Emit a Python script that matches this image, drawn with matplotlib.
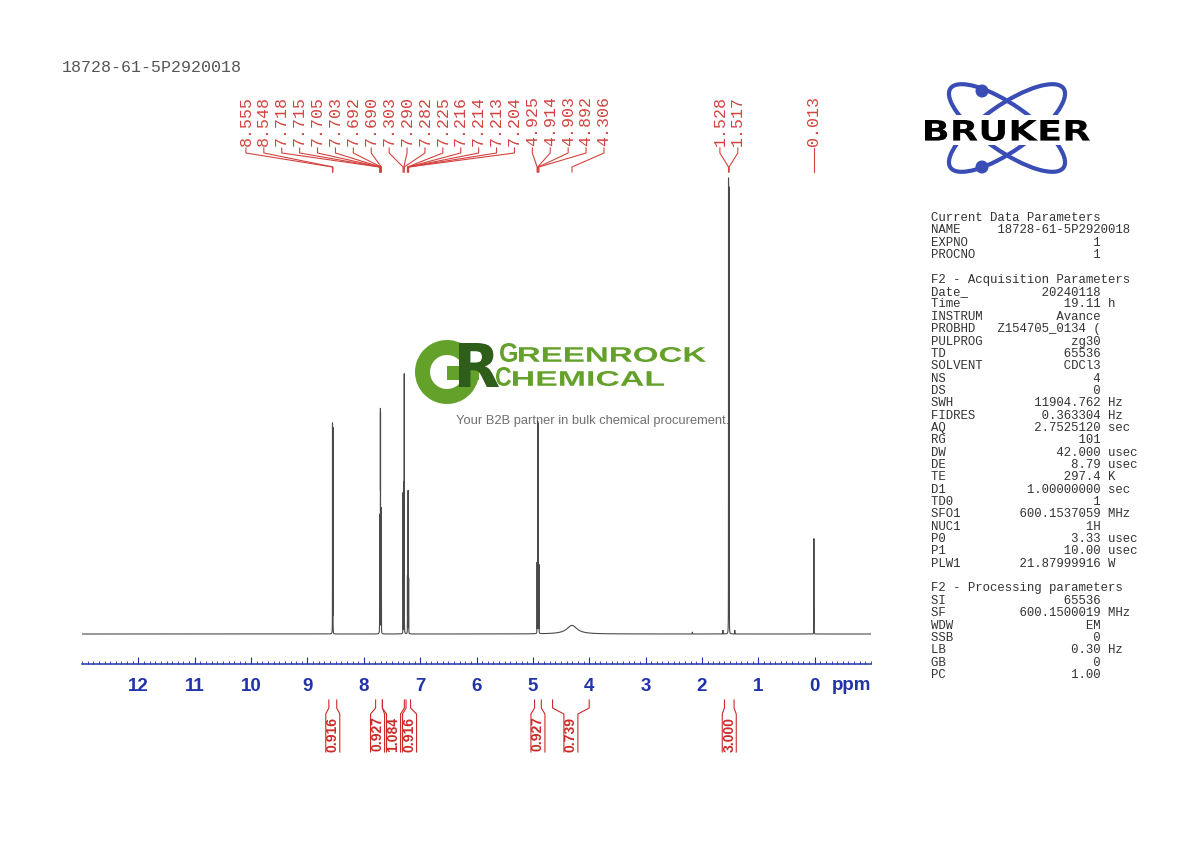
import numpy as np
import matplotlib
matplotlib.use('Agg')
import matplotlib.pyplot as plt
from matplotlib.ticker import FixedLocator, MultipleLocator
from matplotlib.patches import Ellipse, Circle, Rectangle, PathPatch, Wedge
from matplotlib.textpath import TextPath
from matplotlib.font_manager import FontProperties
from matplotlib.transforms import Affine2D

# ---- data ----
# lines (ppm, relative height, fwhm in ppm)
peak_ppm = [8.555, 8.548, 7.718, 7.715, 7.705, 7.703, 7.692, 7.690,
            7.303, 7.290, 7.282, 7.225, 7.216, 7.214, 7.213, 7.204,
            4.925, 4.914, 4.903, 4.892, 4.306, 1.628, 1.528, 1.517, 1.417,
            2.170, 0.013]
peak_height = [46, 45, 24.5, 24.5, 44, 43, 24.5, 24,
               31, 33, 57, 12.5, 26, 20.5, 20.5, 12,
               15.5, 46.5, 46, 15, 1.9, 0.8, 100, 98, 0.8,
               0.4, 21]
peak_fwhm = [0.0015] * 20 + [0.22, 0.002, 0.0015, 0.0015, 0.002, 0.004, 0.0015]

# picked peak labels
label_ppm = [8.555, 8.548, 7.718, 7.715, 7.705, 7.703, 7.692, 7.690,
             7.303, 7.290, 7.282, 7.225, 7.216, 7.214, 7.213, 7.204,
             4.925, 4.914, 4.903, 4.892, 4.306, 1.528, 1.517, 0.013]

# integrals (from, to, value)
integ_from = [8.62, 7.79, 7.67, 7.25, 4.97, 4.65, 1.60]
integ_to = [8.48, 7.67, 7.28, 7.17, 4.85, 4.00, 1.43]
integ_val = ["0.916", "0.927", "1.084", "0.916", "0.927", "0.739", "3.000"]

ppm_ticks = list(range(12, -1, -1))

params = [
    ("Current Data Parameters", None, None),
    ("NAME", "18728-61-5P2920018", ""),
    ("EXPNO", "1", ""),
    ("PROCNO", "1", ""),
    None,
    ("F2 - Acquisition Parameters", None, None),
    ("Date_", "20240118", ""),
    ("Time", "19.11", "h"),
    ("INSTRUM", "Avance", ""),
    ("PROBHD", "Z154705_0134 (", ""),
    ("PULPROG", "zg30", ""),
    ("TD", "65536", ""),
    ("SOLVENT", "CDCl3", ""),
    ("NS", "4", ""),
    ("DS", "0", ""),
    ("SWH", "11904.762", "Hz"),
    ("FIDRES", "0.363304", "Hz"),
    ("AQ", "2.7525120", "sec"),
    ("RG", "101", ""),
    ("DW", "42.000", "usec"),
    ("DE", "8.79", "usec"),
    ("TE", "297.4", "K"),
    ("D1", "1.00000000", "sec"),
    ("TD0", "1", ""),
    ("SFO1", "600.1537059", "MHz"),
    ("NUC1", "1H", ""),
    ("P0", "3.33", "usec"),
    ("P1", "10.00", "usec"),
    ("PLW1", "21.87999916", "W"),
    None,
    ("F2 - Processing parameters", None, None),
    ("SI", "65536", ""),
    ("SF", "600.1500019", "MHz"),
    ("WDW", "EM", ""),
    ("SSB", "0", ""),
    ("LB", "0.30", "Hz"),
    ("GB", "0", ""),
    ("PC", "1.00", ""),
]

RED = '#d2433f'
IRED = '#cc2a2a'
BLUE = '#2233aa'
MONO = ['Liberation Mono', 'DejaVu Sans Mono']
NARROW = ['Liberation Sans Narrow', 'Liberation Sans', 'DejaVu Sans']

W, H = 1190, 842
fig = plt.figure(figsize=(W / 100, H / 100), dpi=100)

# background layer in pixel coordinates (y downwards)
bg = fig.add_axes([0, 0, 1, 1], zorder=0)
bg.set_xlim(0, W)
bg.set_ylim(H, 0)
bg.axis('off')

# spectrum axes
ax = fig.add_axes([82 / W, 1 - 664 / H, (871 - 82) / W, (664 - 170) / H], zorder=1)
ax.patch.set_alpha(0)
pxu = 4.54
ax.set_xlim(13, -1)
ax.set_ylim(-30 / pxu, (664 - 170 - 30) / pxu)

x = np.linspace(13, -1, 280001)
y = np.zeros_like(x)
for p, h, w in zip(peak_ppm, peak_height, peak_fwhm):
    y += h / (1 + ((x - p) / (w / 2)) ** 2)
ax.plot(x, y, color='#4a4a4a', lw=0.8)

for s in ['left', 'right', 'top']:
    ax.spines[s].set_visible(False)
ax.spines['bottom'].set_color(BLUE)
ax.spines['bottom'].set_linewidth(1.1)
ax.yaxis.set_visible(False)
ax.xaxis.set_major_locator(FixedLocator(ppm_ticks))
ax.xaxis.set_minor_locator(MultipleLocator(0.1))
ax.set_xticklabels([str(t) for t in ppm_ticks])
ax.tick_params(axis='x', which='major', direction='in', length=5, width=0.8,
               color=BLUE, labelcolor=BLUE, pad=10, labelsize=13.5)
ax.tick_params(axis='x', which='minor', direction='in', length=2.5, width=0.6,
               color=BLUE)
for lab in ax.get_xticklabels():
    lab.set_fontweight('bold')
    lab.set_family(NARROW)
bg.text(871, 686, "ppm", ha='right', va='center', color=BLUE, fontsize=13.5,
        fontweight='bold', family=NARROW)


def ppm2px(v):
    return ax.transData.transform((v, 0))[0]


def spread(xs, gap):
    groups = []
    for v in xs:
        groups.append([v, 1])
        while len(groups) > 1:
            s1, n1 = groups[-2]
            s2, n2 = groups[-1]
            c1, c2 = s1 / n1, s2 / n2
            if c1 + (n1 - 1) * gap / 2 + gap > c2 - (n2 - 1) * gap / 2:
                groups[-2] = [s1 + s2, n1 + n2]
                groups.pop()
            else:
                break
    out = []
    for s, n in groups:
        c = s / n
        out += [c + (i - (n - 1) / 2) * gap for i in range(n)]
    return out


# peak labels with leader lines
peak_px = [ppm2px(v) for v in label_ppm]
lab_px = spread(peak_px, 17.9)
for v, pp, lp in zip(label_ppm, peak_px, lab_px):
    bg.text(lp, 146, "%.3f" % v, rotation=90, ha='center', va='bottom',
            fontsize=12, color=RED, family=MONO)
    bg.plot([lp, lp, pp, pp], [148, 153, 167, 172], color=RED, lw=0.8)

# integrals
mid_px = [(ppm2px(a) + ppm2px(b)) / 2 for a, b in zip(integ_from, integ_to)]
box_px = spread(mid_px, 16)
for a, b, val, c in zip(integ_from, integ_to, integ_val, box_px):
    xa, xb = ppm2px(a), ppm2px(b)
    bg.plot([xa, xa, c - 7, c - 7], [700, 708, 714, 752], color=IRED, lw=0.8)
    bg.plot([xb, xb, c + 7, c + 7], [700, 708, 714, 752], color=IRED, lw=0.8)
    bg.text(c, 734, val, rotation=90, ha='center', va='center', fontsize=10,
            fontweight='bold', color=IRED, family=NARROW)

# title
bg.text(62, 68, "18728-61-5P2920018", ha='left', va='center', fontsize=12,
        color='#555555', family=MONO)

# parameter block
for i, row in enumerate(params):
    if row is None:
        continue
    yy = 218 + 12.35 * i
    name, val, unit = row
    if val is None:
        s = name
    elif name == "NAME":
        s = "%-9s%s" % (name, val)
    else:
        s = "%-9s%14s %s" % (name, val, unit)
    bg.text(931, yy, s, ha='left', va='center', fontsize=8.9,
            color='#333333', family=MONO)


def path_text(s, x0, x1, y_top, y_bot, color, family='DejaVu Sans',
              weight='bold', z=2):
    tp = TextPath((0, 0), s, size=10, prop=FontProperties(family=family, weight=weight))
    ext = tp.get_extents()
    sx = (x1 - x0) / ext.width
    sy = (y_bot - y_top) / ext.height
    tr = Affine2D().translate(-ext.x0, -ext.y0).scale(sx, -sy).translate(x0, y_bot)
    bg.add_patch(PathPatch(tr.transform_path(tp), fc=color, ec='none', zorder=z))


# Bruker logo
LB = '#3a4db5'
bg.add_patch(Ellipse((1007, 128), 138, 46, angle=35, fill=False, ec=LB, lw=3, zorder=1))
bg.add_patch(Ellipse((1007, 128), 138, 46, angle=-35, fill=False, ec=LB, lw=3, zorder=1))
bg.add_patch(Circle((982, 91), 6.5, fc=LB, ec='none', zorder=1))
bg.add_patch(Circle((982, 167), 6.5, fc=LB, ec='none', zorder=1))
bg.add_patch(Rectangle((921, 115), 172, 30, fc='white', ec='none', zorder=1.5))
path_text("BRUKER", 925, 1090, 120, 141, 'black', family='DejaVu Sans')

# Greenrock watermark
G1 = '#63a12a'
G2 = '#2f5e1a'
bg.add_patch(Wedge((447, 372), 32, 0, 318, width=15, fc=G1, ec='none', zorder=1))
bg.add_patch(Rectangle((447, 366), 32, 14, fc=G1, ec='none', zorder=1))
path_text("R", 459, 499, 343, 387, G2, z=1.2)
path_text("G", 500, 517, 343, 362, G1, family='Liberation Sans', z=1)
path_text("REENROCK", 519, 706, 347, 362, G1, family='Liberation Sans', z=1)
path_text("C", 496, 511, 367, 386, G1, family='Liberation Sans', z=1)
path_text("HEMICAL", 513, 664, 371, 386, G1, family='Liberation Sans', z=1)
bg.text(456, 421, "Your B2B partner in bulk chemical procurement.", ha='left',
        va='center', fontsize=9.3, color='#707070', family='Liberation Sans')

fig.savefig("out.png", dpi=100)
